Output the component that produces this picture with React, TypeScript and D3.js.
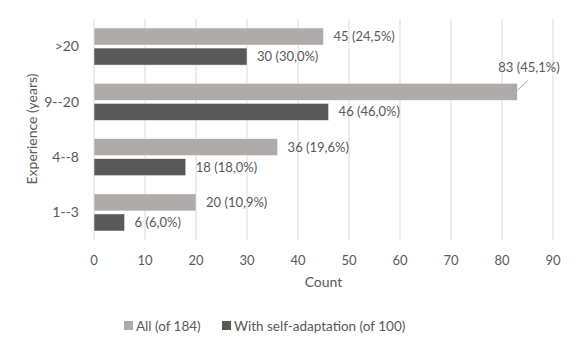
import React from 'react';
import * as d3 from 'd3';

const categories = ['>20', '9--20', '4--8', '1--3'];
const allValues = [45, 83, 36, 20];
const allPct = ['24,5%', '45,1%', '19,6%', '10,9%'];
const selfValues = [30, 46, 18, 6];
const selfPct = ['30,0%', '46,0%', '18,0%', '6,0%'];
const xTicks = [0, 10, 20, 30, 40, 50, 60, 70, 80, 90];
const seriesNames = ['All (of 184)', 'With self-adaptation (of 100)'];

const W = 581;
const H = 352;
const left = 94;
const right = 553;
const top = 19;
const bottom = 240;
const font = 'Lato, "Open Sans", sans-serif';
const textColor = '#595959';
const colorAll = '#aeabab';
const colorSelf = '#595959';

export default function App() {
  const x = d3.scaleLinear().domain([0, 90]).range([left, right]);
  const y = d3.scaleBand().domain(categories).range([top, bottom]).paddingInner(0.33).paddingOuter(0.163);
  const sub = d3.scaleBand().domain(['all', 'self']).range([0, y.bandwidth()]).paddingInner(0.15);

  return (
    <svg width={W} height={H} style={{ position: 'absolute', left: 0, top: 0, background: '#fff' }} fontFamily={font}>
      {/* gridlines */}
      {xTicks.map(t => (
        <line key={t} x1={x(t)} x2={x(t)} y1={top} y2={bottom} stroke="#d9d9d9" strokeWidth={1} />
      ))}
      {/* bars */}
      {categories.map((c, i) => {
        const y0 = y(c)!;
        const ya = y0 + sub('all')!;
        const ys = y0 + sub('self')!;
        const special = allValues[i] === 83;
        return (
          <g key={c}>
            <rect x={x(0)} y={ya} width={x(allValues[i]) - x(0)} height={sub.bandwidth()} fill={colorAll} stroke="#fff" strokeWidth={0.5} />
            <rect x={x(0)} y={ys} width={x(selfValues[i]) - x(0)} height={sub.bandwidth()} fill={colorSelf} stroke="#fff" strokeWidth={0.5} />
            {special ? (
              <g>
                <line x1={x(allValues[i])} y1={ya + 7} x2={x(allValues[i]) + 11} y2={ya - 3} stroke="#a6a6a6" strokeWidth={1} />
                <text x={x(allValues[i]) - 19} y={ya - 11} fontSize={13} fill={textColor}>
                  {`${allValues[i]} (${allPct[i]})`}
                </text>
              </g>
            ) : (
              <text x={x(allValues[i]) + 10} y={ya + sub.bandwidth() / 2} dy="0.35em" fontSize={13} fill={textColor}>
                {`${allValues[i]} (${allPct[i]})`}
              </text>
            )}
            <text x={x(selfValues[i]) + 10} y={ys + sub.bandwidth() / 2} dy="0.35em" fontSize={13} fill={textColor}>
              {`${selfValues[i]} (${selfPct[i]})`}
            </text>
            <text x={79} y={y0 + y.bandwidth() / 2} dy="0.35em" textAnchor="end" fontSize={14} fill={textColor}>
              {c}
            </text>
          </g>
        );
      })}
      {/* x tick labels */}
      {xTicks.map(t => (
        <text key={t} x={x(t)} y={260} dy="0.35em" textAnchor="middle" fontSize={13} fill={textColor}>
          {t}
        </text>
      ))}
      <text x={(left + right) / 2} y={282} dy="0.35em" textAnchor="middle" fontSize={14} fill={textColor}>
        Count
      </text>
      <text transform={`translate(32,129) rotate(-90)`} textAnchor="middle" dy="0.35em" fontSize={14} fill={textColor}>
        Experience (years)
      </text>
      {/* legend */}
      <rect x={124} y={321} width={9} height={9} fill={colorAll} />
      <text x={136} y={326} dy="0.35em" fontSize={13.5} fill={textColor}>{seriesNames[0]}</text>
      <rect x={222} y={321} width={9} height={9} fill={colorSelf} />
      <text x={234} y={326} dy="0.35em" fontSize={13.5} fill={textColor}>{seriesNames[1]}</text>
    </svg>
  );
}
